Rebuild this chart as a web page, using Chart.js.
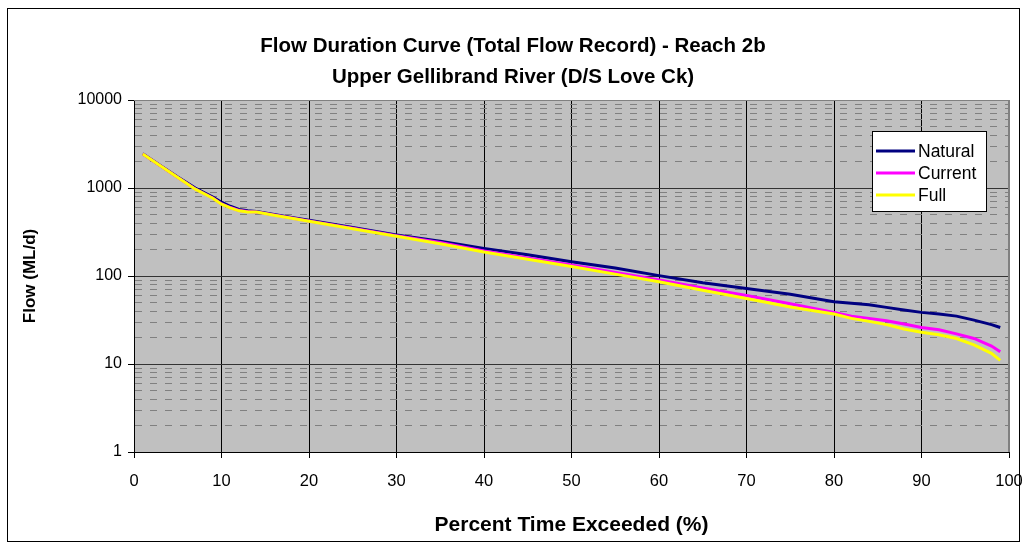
<!DOCTYPE html>
<html><head><meta charset="utf-8">
<script src="https://cdn.jsdelivr.net/npm/chart.js@4/dist/chart.umd.min.js"></script>
<style>html,body{margin:0;padding:0;background:#fff}canvas{display:block}</style>
</head><body>
<canvas id="c" width="1026" height="544"></canvas>
<script>
// ---- data ----
const titleLines = ['Flow Duration Curve (Total Flow Record) - Reach 2b', 'Upper Gellibrand River (D/S Love Ck)'];
const xAxisTitle = 'Percent Time Exceeded (%)';
const yAxisTitle = 'Flow (ML/d)';
const seriesNames = ['Natural', 'Current', 'Full'];
const percentExceeded = [1, 3, 5, 7, 9, 10, 11, 12, 13, 14, 16, 18, 20, 25, 30, 35, 40, 45, 50, 55, 60, 65, 70, 75, 80, 82, 84, 86, 88, 90, 92, 94, 96, 98, 99];
const natural = [2450, 1800, 1330, 1000, 790, 690, 620, 570, 550, 540, 500, 462, 430, 355, 293, 248, 206, 174, 145, 123, 101, 84, 72, 62, 51, 49, 47, 44, 41, 38.6, 37, 35, 31.5, 28, 26];
const current = [2430, 1790, 1320, 975, 770, 660, 600, 555, 540, 535, 495, 455, 422, 350, 287, 240, 192, 160, 133, 110, 90, 73, 60, 48.5, 38.5, 35, 33, 31, 28.5, 26, 24.5, 22, 19.5, 16, 13.8];
const full = [2430, 1790, 1320, 970, 765, 655, 595, 550, 535, 532, 490, 452, 418, 345, 283, 232, 187, 155, 128, 105, 86, 69, 55.5, 44.5, 37, 33, 30.5, 28, 25, 23, 21.5, 19.5, 16.5, 13.2, 11];
const xTickValues = [0, 10, 20, 30, 40, 50, 60, 70, 80, 90, 100];
const yTickValues = [1, 10, 100, 1000, 10000];

// ---- styles ----
const FONT = '"Liberation Sans", Arial, sans-serif';
Chart.defaults.font.family = FONT;
Chart.defaults.color = '#000';
const colors = ['#000080', '#FF00FF', '#FFFF00'];
const seriesData = [natural, current, full];

const toXY = arr => arr.map((v, i) => ({x: percentExceeded[i], y: v}));

const plotBg = {
  id: 'plotBg',
  beforeDraw(chart) {
    const {ctx, chartArea: a} = chart;
    ctx.save();
    ctx.fillStyle = '#fff';
    ctx.fillRect(0, 0, chart.width, chart.height);
    ctx.fillStyle = '#C0C0C0';
    ctx.fillRect(a.left, a.top, a.right - a.left, a.bottom - a.top);
    ctx.restore();
  },
  beforeDatasetsDraw(chart) {
    const {ctx, chartArea: a} = chart;
    ctx.save();
    ctx.strokeStyle = '#808080';
    ctx.lineWidth = 1;
    ctx.beginPath();
    ctx.moveTo(a.left, a.top + 0.5);
    ctx.lineTo(a.right - 0.5, a.top + 0.5);
    ctx.lineTo(a.right - 0.5, a.bottom);
    ctx.stroke();
    ctx.restore();
  },
  afterDraw(chart) {
    const {ctx} = chart;
    ctx.save();
    ctx.strokeStyle = '#000';
    ctx.lineWidth = 1;
    ctx.strokeRect(7.5, 8.5, 1012, 533);
    ctx.restore();
  }
};

const boxLegend = {
  id: 'boxLegend',
  afterDatasetsDraw(chart) {
    const {ctx} = chart;
    const bx = 872.5, by = 131.5, bw = 114, bh = 80;
    ctx.save();
    ctx.fillStyle = '#fff';
    ctx.fillRect(bx, by, bw, bh);
    ctx.strokeStyle = '#000';
    ctx.lineWidth = 1;
    ctx.strokeRect(bx, by, bw, bh);
    ctx.font = '17.5px ' + FONT;
    ctx.textBaseline = 'middle';
    ctx.textAlign = 'left';
    chart.data.datasets.forEach((ds, i) => {
      const y = 151 + i * 22;
      ctx.strokeStyle = ds.borderColor;
      ctx.lineWidth = 3;
      ctx.beginPath();
      ctx.moveTo(876, y);
      ctx.lineTo(915, y);
      ctx.stroke();
      ctx.fillStyle = '#000';
      ctx.fillText(ds.label, 918, y + 1);
    });
    ctx.restore();
  }
};

const isMajorY = v => yTickValues.includes(v);

new Chart(document.getElementById('c'), {
  type: 'line',
  data: {
    datasets: seriesNames.map((name, i) => ({
      label: name,
      data: toXY(seriesData[i]),
      borderColor: colors[i],
      backgroundColor: colors[i],
      borderWidth: 3,
      pointRadius: 0,
      tension: 0,
      fill: false,
      order: 2 - i
    }))
  },
  options: {
    responsive: false,
    animation: false,
    devicePixelRatio: 1,
    layout: {padding: 0},
    plugins: {
      legend: {display: false},
      tooltip: {enabled: false},
      title: {
        display: true,
        text: titleLines,
        color: '#000',
        font: {size: 20.5, weight: 'bold', lineHeight: 31 / 20.5},
        padding: {top: 31, bottom: 7}
      }
    },
    scales: {
      x: {
        type: 'linear',
        min: 0, max: 100,
        afterBuildTicks: s => { s.ticks = xTickValues.map(v => ({value: v})); },
        afterFit: s => { s.height = 92; s.paddingRight = 17; s.paddingLeft = 0; },
        ticks: {font: {size: 16.5}, color: '#000', padding: 14, maxRotation: 0, autoSkip: false,
          callback: v => String(v)},
        grid: {
          color: ctx => (ctx.tick && ctx.tick.value === 100) ? '#808080' : '#000',
          lineWidth: 1, tickLength: 6, tickColor: '#000'
        },
        border: {color: '#000', width: 1},
        title: {display: true, text: xAxisTitle, font: {size: 21, weight: 'bold'}, color: '#000', padding: {top: 0, bottom: 6}}
      },
      y: {
        type: 'logarithmic',
        min: 1, max: 10000,
        afterBuildTicks: s => {
          const t = [];
          for (let i = 0; i < yTickValues.length - 1; i++) {
            for (let m = 1; m < 10; m++) t.push({value: m * yTickValues[i]});
          }
          t.push({value: yTickValues[yTickValues.length - 1]});
          s.ticks = t;
        },
        afterFit: s => { s.width = 134; },
        ticks: {font: {size: 16}, color: '#000', padding: 6, autoSkip: false,
          callback: v => isMajorY(v) ? String(v) : ''},
        grid: {
          color: ctx => {
            const v = ctx.tick ? ctx.tick.value : 0;
            if (v === 10000) return '#808080';
            return isMajorY(v) ? '#333' : '#808080';
          },
          lineWidth: 1,
          tickLength: 6,
          tickColor: ctx => (ctx.tick && isMajorY(ctx.tick.value)) ? '#000' : 'rgba(0,0,0,0)'
        },
        border: {
          color: '#000', width: 1,
          dash: ctx => (ctx.tick && isMajorY(ctx.tick.value)) ? [] : [7, 8]
        },
        title: {display: true, text: yAxisTitle, font: {size: 17, weight: 'bold'}, color: '#000', padding: {top: 20, bottom: 0}}
      }
    }
  },
  plugins: [plotBg, boxLegend]
});
</script>
</body></html>
